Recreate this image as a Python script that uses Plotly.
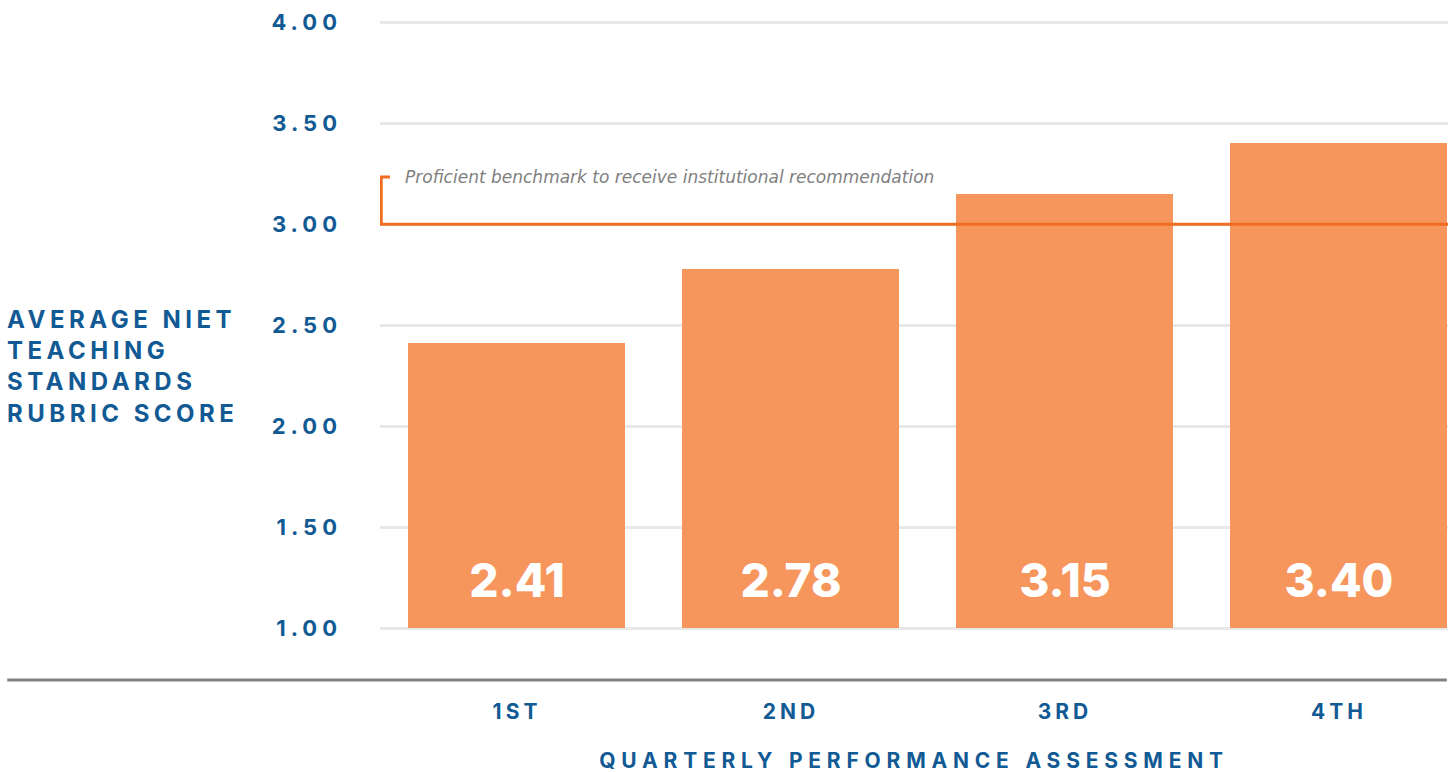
import plotly.graph_objects as go

# ---- data ----
quarters = ["1ST", "2ND", "3RD", "4TH"]
scores = [2.41, 2.78, 3.15, 3.40]
benchmark = 3.00
benchmark_label = "Proficient benchmark to receive institutional recommendation"
y_ticks = [1.0, 1.5, 2.0, 2.5, 3.0, 3.5, 4.0]
y_title = "AVERAGE NIET<br>TEACHING<br>STANDARDS<br>RUBRIC SCORE"
x_title = "QUARTERLY PERFORMANCE ASSESSMENT"
base_score = 1.0
label_y = 1.21

BLUE = "#125A94"
BAR = "#F6955C"
LINE = "#F26D21"
GRID = "#E8E8E8"
BOLD_FONT = "Inter"

fig = go.Figure()
fig.add_trace(go.Bar(
    x=quarters,
    y=[s - base_score for s in scores],
    base=base_score,
    marker=dict(color=BAR, line=dict(width=0)),
    width=0.792,
    hoverinfo="skip",
    showlegend=False,
))
fig.add_trace(go.Scatter(
    x=quarters,
    y=[label_y] * len(scores),
    mode="text",
    text=[f"{s:.2f}" for s in scores],
    textposition="middle center",
    textfont=dict(family=BOLD_FONT, size=46, color="white", weight=800),
    hoverinfo="skip",
    showlegend=False,
))

# benchmark line + bracket
fig.add_shape(type="line", xref="x", yref="y", x0=-0.5, x1=3.398,
              y0=benchmark, y1=benchmark, line=dict(color=LINE, width=3), layer="above")
fig.add_shape(type="path", xref="x", yref="y",
              path=f"M -0.4955,{benchmark} L -0.4955,{benchmark + 0.233} L -0.4635,{benchmark + 0.233}",
              line=dict(color=LINE, width=3), layer="above")
# bottom baseline rule
fig.add_shape(type="line", xref="paper", yref="y", x0=-0.349, x1=0.999,
              y0=0.745, y1=0.745, line=dict(color="#808285", width=3))

fig.add_annotation(text=y_title, xref="paper", yref="paper",
                   x=(5 - 380) / 1068, y=(688.6 - 366) / 677,
                   xanchor="left", yanchor="middle", align="left", showarrow=False,
                   font=dict(family=BOLD_FONT, size=24, color=BLUE, weight=700))
fig.add_annotation(text=x_title, xref="paper", yref="paper",
                   x=0.5, y=(688.6 - 760) / 677,
                   xanchor="center", yanchor="middle", showarrow=False,
                   font=dict(family=BOLD_FONT, size=21, color=BLUE, weight=700))
fig.add_annotation(text=benchmark_label, xref="paper", yref="y",
                   x=(403 - 380) / 1068, y=benchmark + 0.233,
                   xanchor="left", yanchor="middle", showarrow=False,
                   font=dict(family="DejaVu Sans", size=17, color="#808080", style="italic"))

fig.update_layout(
    width=1453, height=772,
    margin=dict(l=380, r=5, t=12, b=83),
    paper_bgcolor="white", plot_bgcolor="white",
    bargap=0,
    xaxis=dict(range=[-0.5, 3.398], showgrid=False, zeroline=False, showline=False,
               ticks="", ticklabelstandoff=8,
               tickfont=dict(family=BOLD_FONT, size=21, color=BLUE, weight=700)),
    yaxis=dict(range=[0.7, 4.05], tickvals=y_ticks, ticktext=[f"{v:.2f}" for v in y_ticks],
               showgrid=True, gridcolor=GRID, gridwidth=3, zeroline=False, showline=False,
               ticks="", ticklabelstandoff=37,
               tickfont=dict(family=BOLD_FONT, size=22, color=BLUE, weight=700)),
    hovermode=False,
)

css = ("html,body{margin:0;padding:0;}"
       ".ytick text{letter-spacing:5px}"
       ".xtick text{letter-spacing:4px}"
       ".annotation[data-index='0'] text{letter-spacing:4.5px}"
       ".annotation[data-index='1'] text{letter-spacing:5.8px}")
post = "var s=document.createElement('style');s.innerHTML=\"" + css + "\";document.head.appendChild(s);"

fig.write_html("out.html", post_script=post, config={"displayModeBar": False})
